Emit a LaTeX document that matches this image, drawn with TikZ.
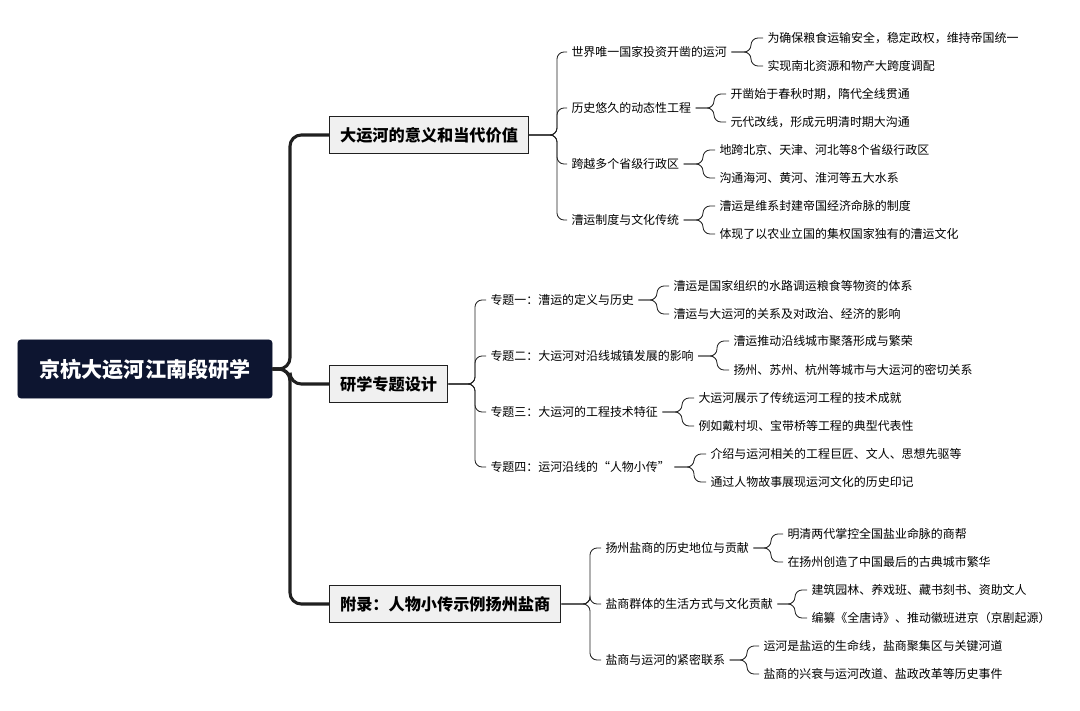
\documentclass[tikz,border=0pt]{standalone}
\usepackage{fontspec}
\setmainfont{Noto Sans CJK SC}
\definecolor{navy}{HTML}{0D1530}
\definecolor{boxgray}{HTML}{F0F0F0}
\definecolor{linegray}{HTML}{202020}
\tikzset{
  root/.style={draw=navy, fill=navy, text=white, rounded corners=2pt, minimum width=6.35cm, minimum height=1.45cm, font=\fontsize{15}{18}\selectfont\bfseries},
  topic/.style={draw=linegray, fill=boxgray, line width=0.8pt, minimum height=0.92cm, inner xsep=7.5pt, font=\fontsize{11.5}{14}\selectfont\bfseries},
  item/.style={anchor=west, inner xsep=3pt, inner ysep=1pt, font=\fontsize{8.5}{10}\selectfont},
  trunk/.style={draw=linegray, line width=2.2pt, rounded corners=8pt},
  twig/.style={draw=linegray, line width=0.6pt, rounded corners=5pt},
}
\begin{document}
\begin{tikzpicture}[x=0.025cm,y=-0.025cm]
\useasboundingbox (0,0) rectangle (1080,711);

\node[root] (root) at (145,369) {京杭大运河江南段研学};
\node[topic, anchor=west] (t1) at (329,135) {大运河的意义和当代价值};
\node[topic, anchor=west] (t2) at (329,384) {研学专题设计};
\node[topic, anchor=west] (t3) at (329,604) {附录：人物小传示例扬州盐商};

% level 2
\node[item] (a1) at (567,52) {世界唯一国家投资开凿的运河};
\node[item] (a2) at (567,108) {历史悠久的动态性工程};
\node[item] (a3) at (567,164) {跨越多个省级行政区};
\node[item] (a4) at (567,220) {漕运制度与文化传统};
\node[item] (b1) at (486,300) {专题一：漕运的定义与历史};
\node[item] (b2) at (486,356) {专题二：大运河对沿线城镇发展的影响};
\node[item] (b3) at (486,412) {专题三：大运河的工程技术特征};
\node[item] (b4) at (486,467) {专题四：运河沿线的“人物小传”};
\node[item] (c1) at (601,548) {扬州盐商的历史地位与贡献};
\node[item] (c2) at (601,604) {盐商群体的生活方式与文化贡献};
\node[item] (c3) at (601,660) {盐商与运河的紧密联系};

% level 3
\node[item] (a11) at (763,38) {为确保粮食运输安全，稳定政权，维持帝国统一};
\node[item] (a12) at (763,66) {实现南北资源和物产大跨度调配};
\node[item] (a21) at (726,94) {开凿始于春秋时期，隋代全线贯通};
\node[item] (a22) at (726,122) {元代改线，形成元明清时期大沟通};
\node[item] (a31) at (715,150) {地跨北京、天津、河北等8个省级行政区};
\node[item] (a32) at (715,178) {沟通海河、黄河、淮河等五大水系};
\node[item] (a41) at (715,206) {漕运是维系封建帝国经济命脉的制度};
\node[item] (a42) at (715,234) {体现了以农业立国的集权国家独有的漕运文化};
\node[item] (b11) at (669,286) {漕运是国家组织的水路调运粮食等物资的体系};
\node[item] (b12) at (669,314) {漕运与大运河的关系及对政治、经济的影响};
\node[item] (b21) at (729,341) {漕运推动沿线城市聚落形成与繁荣};
\node[item] (b22) at (729,370) {扬州、苏州、杭州等城市与大运河的密切关系};
\node[item] (b31) at (694,398) {大运河展示了传统运河工程的技术成就};
\node[item] (b32) at (694,426) {例如戴村坝、宝带桥等工程的典型代表性};
\node[item] (b41) at (706,454) {介绍与运河相关的工程巨匠、文人、思想先驱等};
\node[item] (b42) at (706,482) {通过人物故事展现运河文化的历史印记};
\node[item] (c11) at (783,534) {明清两代掌控全国盐业命脉的商帮};
\node[item] (c12) at (783,562) {在扬州创造了中国最后的古典城市繁华};
\node[item] (c21) at (807,590) {建筑园林、养戏班、藏书刻书、资助文人};
\node[item] (c22) at (807,618) {编纂《全唐诗》、推动徽班进京（京剧起源）};
\node[item] (c31) at (759,646) {运河是盐运的生命线，盐商聚集区与关键河道};
\node[item] (c32) at (759,674) {盐商的兴衰与运河改道、盐政改革等历史事件};

% trunk lines
\coordinate (x0) at (290,0);
\foreach \t in {t1,t2,t3}
  \draw[trunk] (root.east) -- (x0 |- root.east) -- (x0 |- \t.west) -- (\t.west);

% topic to items
\coordinate (xa) at (557,0);
\foreach \i in {a1,a2,a3,a4}
  \draw[twig] (t1.east) -- (xa |- t1.east) -- (xa |- \i.west) -- (\i.west);
\coordinate (xb) at (475,0);
\foreach \i in {b1,b2,b3,b4}
  \draw[twig] (t2.east) -- (xb |- t2.east) -- (xb |- \i.west) -- (\i.west);
\coordinate (xc) at (590,0);
\foreach \i in {c1,c2,c3}
  \draw[twig] (t3.east) -- (xc |- t3.east) -- (xc |- \i.west) -- (\i.west);

% items to leaves
\foreach \i/\bx in {a1/751,a2/714,a3/703,a4/703,b1/657,b2/717,b3/682,b4/694,c1/771,c2/795,c3/747}
  \foreach \k in {1,2} {
    \coordinate (bx) at (\bx,0);
    \draw[twig] (\i.east) -- (bx |- \i.east) -- (bx |- \i\k.west) -- (\i\k.west);
  }
\end{tikzpicture}
\end{document}
